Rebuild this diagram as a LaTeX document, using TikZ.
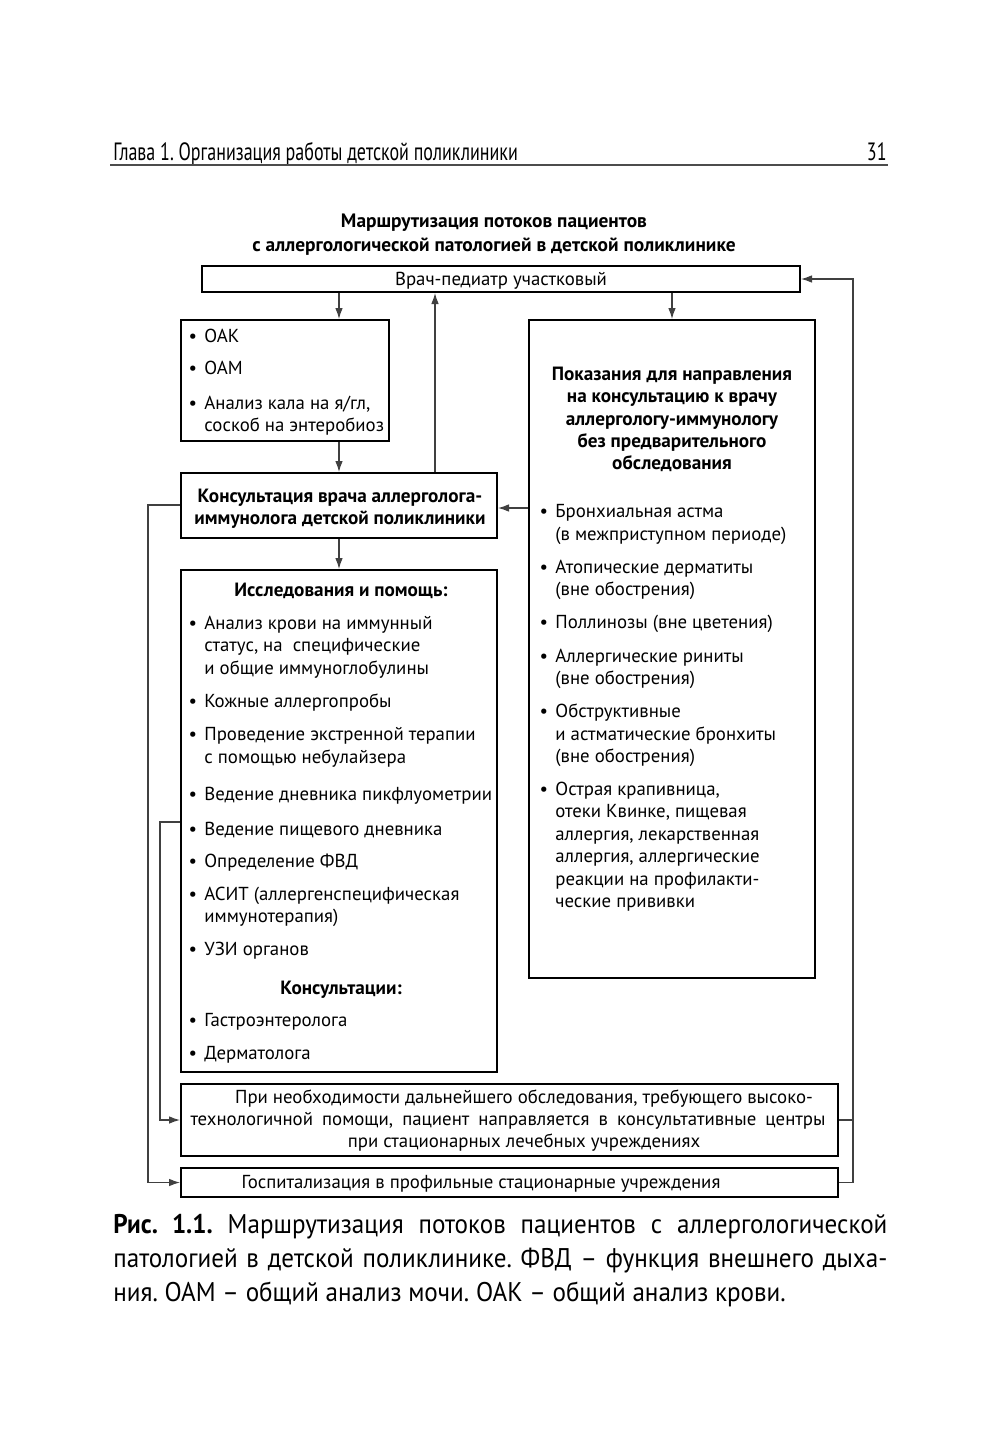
\documentclass[tikz,border=0pt]{standalone}
\usepackage{fontspec}
\setmainfont{PT Sans}
\newfontfamily\hdfont[FakeStretch=0.72]{PT Sans}
\newfontfamily\capfont[FakeStretch=0.93]{PT Sans}
\usetikzlibrary{arrows.meta,fit,calc}
\frenchspacing
\newcommand{\bl}{\llap{\textbullet\hspace{3.7pt}}}
\newcommand{\dfont}{\fontsize{9.4}{11}\selectfont}
\newcommand{\bfont}{\fontsize{9.6}{11}\selectfont\bfseries}
\begin{document}
\begin{tikzpicture}[x=0.5pt,y=-0.5pt,
  box/.style={draw=black, line width=1pt, inner sep=0pt},
  txt/.style={anchor=base west, inner sep=0pt, font=\dfont},
  ctr/.style={anchor=base, inner sep=0pt, font=\dfont},
  btxt/.style={anchor=base, inner sep=0pt, font=\bfont},
  conn/.style={draw=black!75, line width=0.6pt},
  arr/.style={conn, -{Latex[length=5.5pt,width=3.8pt]}}]
\fill[white] (0,0) rectangle (1000,1435);
\useasboundingbox (0,0) rectangle (1000,1435);

% header
\node[anchor=base west, inner sep=0pt, font=\hdfont\fontsize{12.5}{14}\selectfont] (hd) at (113,160) {Глава 1. Организация работы детской поликлиники};
\node[anchor=base east, inner sep=0pt, font=\hdfont\fontsize{12.5}{14}\selectfont] (pg) at (887,160) {31};
\draw[line width=0.8pt, black!70] (110,165) -- (888,165);

% title
\node[btxt, font=\fontsize{9.7}{11}\selectfont\bfseries] (t1) at (494,227) {Маршрутизация потоков пациентов};
\node[btxt, font=\fontsize{9.7}{11}\selectfont\bfseries] (t2) at (494,251) {с аллергологической патологией в детской поликлинике};

% boxes
\node[box, fit={(202,266) (800,292)}] (top) {};
\node[box, fit={(181,320) (389,441)}] (oak) {};
\node[box, fit={(181,473) (497,538)}] (cons) {};
\node[box, fit={(529,320) (815,978)}] (right) {};
\node[box, fit={(181,570) (497,1072)}] (res) {};
\node[box, fit={(181,1084) (838,1156)}] (cent) {};
\node[box, fit={(181,1168) (838,1197)}] (hosp) {};

% top text
\node[ctr] (tt) at (501,285) {Врач-педиатр участковый};

% oak
\node[txt] (o1) at (204,342) {\bl ОАК};
\node[txt] (o2) at (204,374) {\bl ОАМ};
\node[txt] (o3) at (204,409) {\bl Анализ кала на я/гл,};
\node[txt] (o4) at (204,431) {соскоб на энтеробиоз};

% consultation
\node[btxt] (k1) at (340,502) {Консультация врача аллерголога-};
\node[btxt] (k2) at (340,524) {иммунолога детской поликлиники};

% right heading
\node[btxt] (h1) at (672,380) {Показания для направления};
\node[btxt] (h2) at (672,402) {на консультацию к врачу};
\node[btxt] (h3) at (672,425) {аллергологу-иммунологу};
\node[btxt] (h4) at (672,447) {без предварительного};
\node[btxt] (h5) at (672,469) {обследования};

% right items
\node[txt] (r1) at (555,517) {\bl Бронхиальная астма};
\node[txt] (r2) at (555,540) {(в межприступном периоде)};
\node[txt] (r3) at (555,573) {\bl Атопические дерматиты};
\node[txt] (r4) at (555,595) {(вне обострения)};
\node[txt] (r5) at (555,628) {\bl Поллинозы (вне цветения)};
\node[txt] (r6) at (555,662) {\bl Аллергические риниты};
\node[txt] (r7) at (555,684) {(вне обострения)};
\node[txt] (r8) at (555,717) {\bl Обструктивные};
\node[txt] (r9) at (555,740) {и астматические бронхиты};
\node[txt] (r10) at (555,762) {(вне обострения)};
\node[txt] (r11) at (555,795) {\bl Острая крапивница,};
\node[txt] (r12) at (555,817) {отеки Квинке, пищевая};
\node[txt] (r13) at (555,840) {аллергия, лекарственная};
\node[txt] (r14) at (555,862) {аллергия, аллергические};
\node[txt] (r15) at (555,885) {реакции на профилакти-};
\node[txt] (r16) at (555,907) {ческие прививки};

% research
\node[btxt] (s0) at (341,596) {Исследования и помощь:};
\node[txt] (s1) at (204,629) {\bl Анализ крови на иммунный};
\node[txt] (s2) at (204,651) {статус, на\ \ специфические};
\node[txt] (s3) at (204,674) {и общие иммуноглобулины};
\node[txt] (s4) at (204,707) {\bl Кожные аллергопробы};
\node[txt] (s5) at (204,740) {\bl Проведение экстренной терапии};
\node[txt] (s6) at (204,763) {с помощью небулайзера};
\node[txt] (s7) at (204,800) {\bl Ведение дневника пикфлуометрии};
\node[txt] (s8) at (204,835) {\bl Ведение пищевого дневника};
\node[txt] (s9) at (204,867) {\bl Определение ФВД};
\node[txt] (s10) at (204,900) {\bl АСИТ (аллергенспецифическая};
\node[txt] (s11) at (204,922) {иммунотерапия)};
\node[txt] (s12) at (204,955) {\bl УЗИ органов};
\node[btxt] (s13) at (341,994) {Консультации:};
\node[txt] (s14) at (204,1026) {\bl Гастроэнтеролога};
\node[txt] (s15) at (204,1059) {\bl Дерматолога};

% bottom texts
\node[ctr] (e1) at (524,1103) {При необходимости дальнейшего обследования, требующего высоко-};
\node[ctr] (e2) at (508,1125) {\makebox[317.5pt][s]{технологичной помощи, пациент направляется в консультативные центры}};
\node[ctr] (e3) at (524,1147) {при стационарных лечебных учреждениях};
\node[ctr] (g1) at (481,1188) {Госпитализация в профильные стационарные учреждения};

% connectors
\coordinate (upx) at (435,0);
\coordinate (ya) at (0,508);
\coordinate (yb) at (0,505);
\coordinate (yc) at (0,822);
\coordinate (L1) at (148,800);
\coordinate (L2) at (160,900);
\coordinate (R) at (853,700);

\draw[arr] (top.south -| cons.north) -- (oak.north -| cons.north);
\draw[arr] (oak.south -| cons.north) -- (cons.north);
\draw[arr] (cons.north -| upx) -- (top.south -| upx);
\draw[arr] (top.south -| right.north) -- (right.north);
\draw[arr] (right.west |- ya) -- (cons.east |- ya);
\draw[arr] (cons.south) -- (res.north);
\draw[arr] (cons.west |- yb) -| (L1) |- (hosp.west);
\draw[arr] (res.west |- yc) -| (L2) |- (cent.west);
\draw[arr] (hosp.east) -| (R) |- (top.east);
\draw[conn] (cent.east) -- (cent.east -| R);

% caption
\node[anchor=north west, inner sep=0pt, text width=387pt, align=justify,
  font=\capfont\fontsize{13.5}{17}\selectfont] (cap) at (113,1214)
  {\textbf{Рис. 1.1.} Маршрутизация потоков пациентов с~аллергологической\linebreak
   патологией в детской поликлинике. ФВД – функция внешнего дыха-\linebreak
   ния. ОАМ – общий анализ мочи. ОАК – общий анализ крови.};
\end{tikzpicture}
\end{document}
